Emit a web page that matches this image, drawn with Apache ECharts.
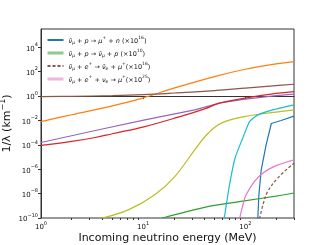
<!DOCTYPE html>
<html><head><meta charset="utf-8">
<script src="https://cdn.jsdelivr.net/npm/echarts@6/dist/echarts.min.js"></script>
<style>html,body{margin:0;padding:0;background:#fff}#c{width:327px;height:245px}</style>
</head><body><div id="c"></div>
<script>
// ---- data (E in MeV, 1/lambda in km^-1) ----
const blueE   = [132.5, 136, 143, 160, 180, 224, 300];
const blueV   = [7.94e-11, 8.13e-9, 7.94e-7, 1e-4, 5.62e-3, 1e-2, 2.24e-2];
const greenE  = [15.5, 32, 50, 98, 200, 300];
const greenV  = [1e-10, 4.79e-10, 1.07e-9, 2.51e-9, 6.31e-9, 1.12e-8];
const bdashE  = [138, 151, 166, 208, 300];
const bdashV  = [8.91e-11, 1.78e-9, 1.51e-8, 1.91e-7, 3.16e-6];
const pinkE   = [88, 95, 102, 123, 149, 193, 300];
const pinkV   = [8.91e-11, 1.26e-9, 7.94e-9, 1e-7, 4.9e-7, 1.7e-6, 6.03e-6];
const orangeE = [1, 2, 5, 10, 20, 50, 100, 200, 300];
const orangeV = [0.00813, 0.0295, 0.158, 0.708, 4.47, 39.8, 158, 437, 676];
const brownE  = [1, 2, 5, 10, 20, 50, 100, 200, 300];
const brownV  = [0.89, 0.95, 1.10, 1.32, 1.78, 2.82, 4.47, 7.24, 9.33];
const purpleE = [1, 3.4, 10.4, 32, 57, 100, 200, 300];
const purpleV = [1.55e-4, 1.51e-3, 1.12e-2, 7.41e-2, 0.28, 0.562, 1.07, 1.45];
const redE    = [1, 2, 3.4, 5, 10.4, 22, 40, 57, 100, 200, 300];
const redV    = [8.91e-5, 1.91e-4, 3.98e-4, 8.13e-4, 3.16e-3, 1.86e-2, 8.91e-2, 0.28, 0.676, 1.66, 2.34];
const oliveE  = [3.95, 7.16, 13.0, 20.4, 32, 43.2, 58.3, 98.4, 200, 300];
const oliveV  = [1e-10, 4.68e-10, 8.13e-9, 2.51e-7, 3.89e-5, 8.91e-4, 6.03e-3, 2.09e-2, 4.79e-2, 7.41e-2];
const cyanE   = [62, 70, 80, 95, 110, 133, 186, 300];
const cyanV   = [7.94e-11, 5.01e-8, 1e-5, 3.98e-4, 7.94e-3, 2.88e-2, 7.41e-2, 0.191];

const xMajor = [1, 10, 100];
const xMinor = [2,3,4,5,6,7,8,9,20,30,40,50,60,70,80,90,200,300];
const yMajor = [1e-10, 1e-8, 1e-6, 1e-4, 1e-2, 1, 1e2, 1e4];
const xLimits = [1, 300];
const yLimitExp = [-10, 5.5];

const legendLabels = {
  a: '{i|ν̄}{sub|μ}{t| + }{i|p}{t| → }{i|μ}{sup|+}{t| + }{i|n}{t| (×10}{sup|16}{t|)}',
  b: '{i|ν̄}{sub|μ}{t| + }{i|p}{t| → }{i|ν̄}{sub|μ}{t| + }{i|p}{t| (×10}{sup|10}{t|)}',
  c: '{i|ν̄}{sub|μ}{t| + }{i|e}{sup|+}{t| → }{i|ν̄}{sub|e}{t| + }{i|μ}{sup|+}{t|(×10}{sup|16}{t|)}',
  d: '{i|ν̄}{sub|μ}{t| + }{i|e}{sup|+}{t| + }{i|ν}{sub|e}{t| → }{i|μ}{sup|+}{t|(×10}{sup|25}{t|)}'
};

const L = Math.log10;
const pts = (E, V) => E.map((e, i) => [L(e), L(V[i])]);
const FONT = 'DejaVu Sans';
function expLabel(v) {
  const k = Math.round(v);
  return '{b|10}{s|' + (k < 0 ? '\u2212' + (-k) : k) + '}';
}
const tickRich = {
  b: {fontSize: 7, fontFamily: FONT, color: '#111', lineHeight: 10, verticalAlign: 'bottom'},
  s: {fontSize: 5, fontFamily: FONT, color: '#111', verticalAlign: 'top'}
};

function line(name, E, V, color, opts) {
  return Object.assign({
    type: 'line', name: name, data: pts(E, V), showSymbol: false, symbol: 'none',
    xAxisIndex: 0, yAxisIndex: 0, clip: true, smooth: 0.4,
    lineStyle: {color: color, width: 1.2}, itemStyle: {color: color}, silent: true,
    animation: false
  }, opts || {});
}

const chart = echarts.init(document.getElementById('c'), null, {renderer: 'canvas'});
chart.setOption({
  animation: false,
  grid: {left: 41, right: 33, top: 29, bottom: 27, outerBoundsMode: 'none', containLabel: false,
         show: true, borderColor: '#333', borderWidth: 1, backgroundColor: 'transparent'},
  xAxis: [{
    type: 'value', min: L(xLimits[0]), max: L(xLimits[1]), position: 'bottom',
    axisLine: {show: true, lineStyle: {color: '#333', width: 1}},
    axisTick: {show: true, inside: false, length: 3, customValues: xMajor.map(L), lineStyle: {color: '#333'}},
    axisLabel: {show: true, customValues: xMajor.map(L), formatter: expLabel, rich: tickRich, margin: 3},
    splitLine: {show: false},
    name: 'Incoming neutrino energy (MeV)', nameLocation: 'middle', nameGap: 15, nameMoveOverlap: false,
    nameTextStyle: {fontSize: 11, fontFamily: FONT, color: '#111', verticalAlign: 'top'}
  }, {
    type: 'value', min: L(xLimits[0]), max: L(xLimits[1]), position: 'bottom', offset: 0,
    axisLine: {show: false},
    axisTick: {show: true, inside: false, length: 2, customValues: xMinor.map(L), lineStyle: {color: '#333'}},
    axisLabel: {show: false}, splitLine: {show: false}
  }],
  yAxis: [{
    type: 'value', min: yLimitExp[0], max: yLimitExp[1],
    axisLine: {show: true, lineStyle: {color: '#333', width: 1}},
    axisTick: {show: true, length: 3, customValues: yMajor.map(L), lineStyle: {color: '#333'}},
    axisLabel: {show: true, customValues: yMajor.map(L), formatter: expLabel, rich: tickRich, margin: 3},
    splitLine: {show: false},
    name: '{t|1/λ (km}{u|\u22121}{t|)}', nameLocation: 'middle', nameGap: 28, nameRotate: 90, nameMoveOverlap: false,
    nameTextStyle: {rich: {
      t: {fontSize: 11, fontFamily: FONT, color: '#111', lineHeight: 14, verticalAlign: 'bottom'},
      u: {fontSize: 8, fontFamily: FONT, color: '#111', verticalAlign: 'top'}
    }}
  }],
  legend: {
    show: true, orient: 'vertical', left: 46, top: 35, padding: 0, itemWidth: 16, itemHeight: 8, itemGap: 3,
    itemStyle: {opacity: 0},
    data: [
      {name: 'a'},
      {name: 'b', lineStyle: {width: 3, opacity: 0.55}},
      {name: 'c'},
      {name: 'd', lineStyle: {width: 3, opacity: 0.55}}
    ],
    formatter: n => legendLabels[n],
    textStyle: {padding: [0, 0, 0, 0], rich: {
      t: {fontSize: 6.5, fontFamily: FONT, color: '#111', lineHeight: 10, verticalAlign: 'bottom'},
      i: {fontSize: 6.5, fontFamily: FONT, fontStyle: 'italic', color: '#111', lineHeight: 10, verticalAlign: 'bottom'},
      sub: {fontSize: 4.5, fontFamily: FONT, fontStyle: 'italic', color: '#111', verticalAlign: 'bottom'},
      sup: {fontSize: 4.5, fontFamily: FONT, color: '#111', verticalAlign: 'top'}
    }},
    selectedMode: false
  },
  series: [
    line('a', blueE, blueV, '#1f77b4', {smooth: false}),
    line('b', greenE, greenV, '#2ca02c'),
    line('c', bdashE, bdashV, '#8c564b', {lineStyle: {color: '#8c564b', width: 1.2, type: [3, 2]}}),
    line('d', pinkE, pinkV, '#e377c2'),
    line('orange', orangeE, orangeV, '#ff7f0e'),
    line('brown', brownE, brownV, '#8c564b'),
    line('purple', purpleE, purpleV, '#9467bd', {smooth: false}),
    line('red', redE, redV, '#d62728'),
    line('olive', oliveE, oliveV, '#bcbd22'),
    line('cyan', cyanE, cyanV, '#17becf', {smooth: 0.15})
  ]
});
</script></body></html>
